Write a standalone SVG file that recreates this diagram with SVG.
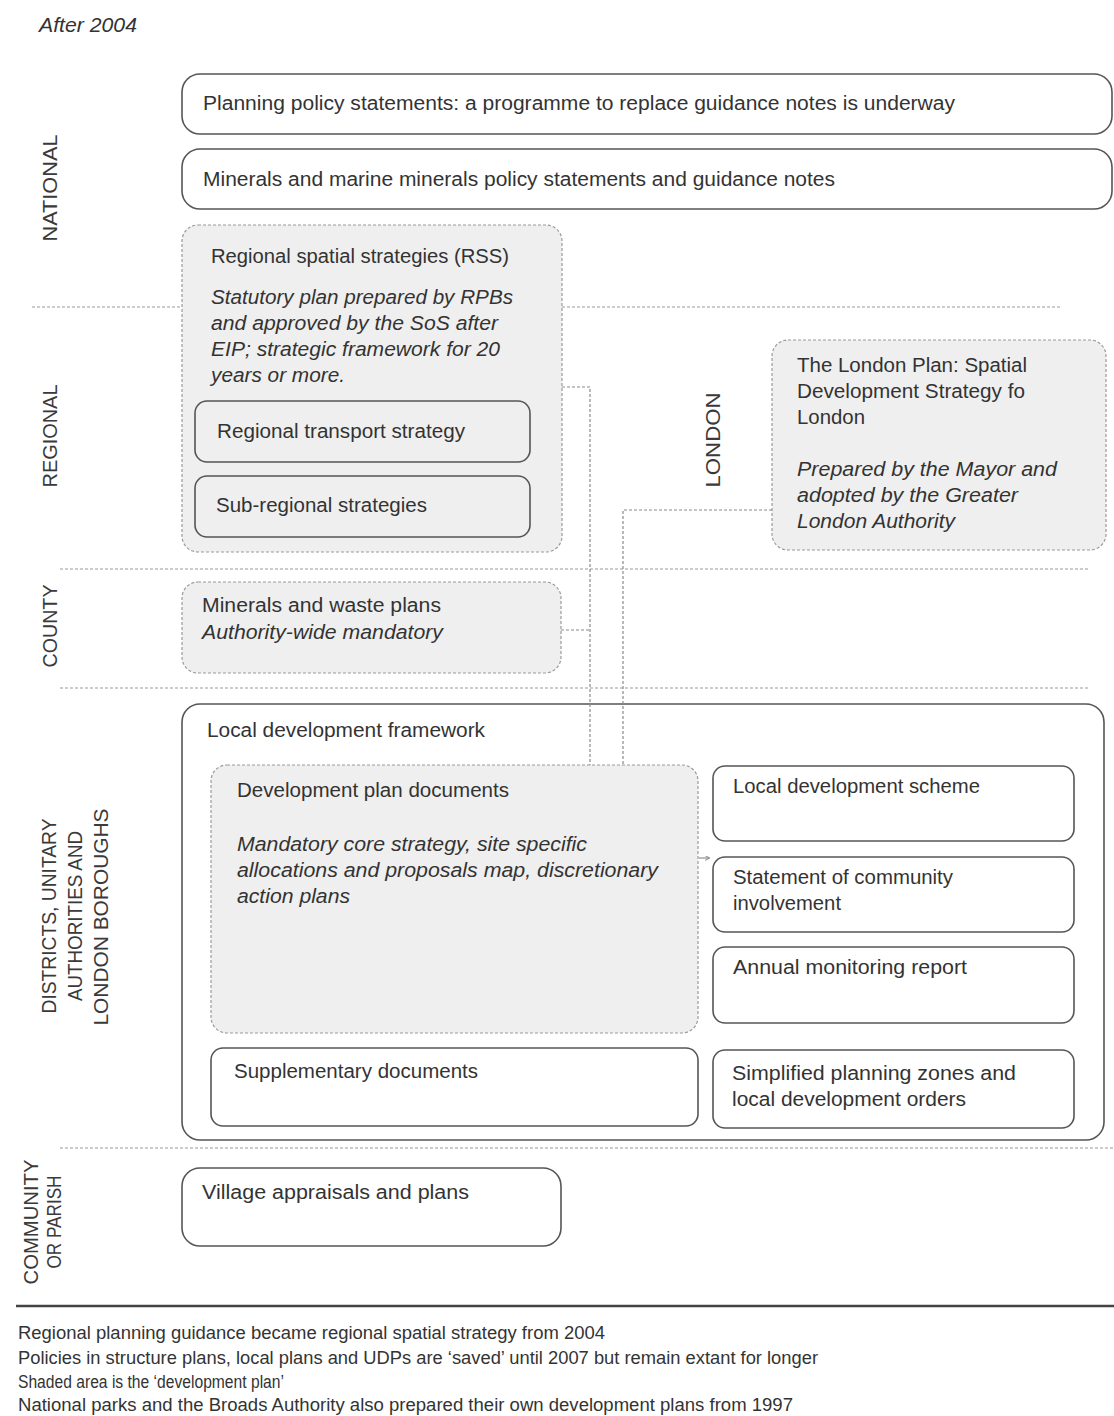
<svg xmlns="http://www.w3.org/2000/svg" width="1114" height="1416" viewBox="0 0 1114 1416">
<defs>
<style>
text{font-family:"Liberation Sans",Arial,sans-serif;font-size:20px;fill:#333}
.i{font-style:italic}
.lab{font-size:20px;fill:#3a3a3a;text-anchor:middle}
.ft{font-size:17.5px;fill:#333}
.box{fill:#fff;stroke:#555;stroke-width:1.6}
.inner{fill:none;stroke:#555;stroke-width:1.6}
.shade{fill:#efefef;stroke:#9a9a9a;stroke-width:1.2;stroke-dasharray:3 2}
.sep{stroke:#9a9a9a;stroke-width:1.2;stroke-dasharray:3 2;fill:none}
.conn{stroke:#8a8a8a;stroke-width:1.2;stroke-dasharray:3 2;fill:none}
</style>
<marker id="ah" viewBox="0 0 6 6" refX="5" refY="3" markerWidth="5" markerHeight="5" orient="auto">
<path d="M0,0 L6,3 L0,6" fill="none" stroke="#777" stroke-width="1"/>
</marker>
</defs>
<rect width="1114" height="1416" fill="#fff"/>

<text x="39" y="32" class="i" textLength="98" lengthAdjust="spacingAndGlyphs">After 2004</text>

<g id="separators">
<line class="sep" x1="32" y1="307" x2="1062" y2="307"/>
<line class="sep" x1="60" y1="569" x2="1090" y2="569"/>
<line class="sep" x1="60" y1="688" x2="1090" y2="688"/>
<line class="sep" x1="60" y1="1148" x2="1114" y2="1148"/>
<line x1="16" y1="1306" x2="1114" y2="1306" stroke="#444" stroke-width="2.5"/>
</g>

<g id="level-labels">
<text class="lab" transform="translate(57,188) rotate(-90)" textLength="107" lengthAdjust="spacingAndGlyphs">NATIONAL</text>
<text class="lab" transform="translate(57,436) rotate(-90)" textLength="103" lengthAdjust="spacingAndGlyphs">REGIONAL</text>
<text class="lab" transform="translate(57,626) rotate(-90)" textLength="83" lengthAdjust="spacingAndGlyphs">COUNTY</text>
<text class="lab" transform="translate(56,916) rotate(-90)" textLength="195" lengthAdjust="spacingAndGlyphs">DISTRICTS, UNITARY</text>
<text class="lab" transform="translate(82,916) rotate(-90)" textLength="170" lengthAdjust="spacingAndGlyphs">AUTHORITIES AND</text>
<text class="lab" transform="translate(108,917) rotate(-90)" textLength="217" lengthAdjust="spacingAndGlyphs">LONDON BOROUGHS</text>
<text class="lab" transform="translate(38,1222) rotate(-90)" textLength="125" lengthAdjust="spacingAndGlyphs">COMMUNITY</text>
<text class="lab" transform="translate(61,1222) rotate(-90)" textLength="93" lengthAdjust="spacingAndGlyphs">OR PARISH</text>
<text class="lab" transform="translate(720,440) rotate(-90)" textLength="95" lengthAdjust="spacingAndGlyphs">LONDON</text>
</g>

<g id="n-pps">
<rect class="box" x="182" y="74" width="930" height="60" rx="18"/>
<text x="203" y="110" textLength="752" lengthAdjust="spacingAndGlyphs">Planning policy statements: a programme to replace guidance notes is underway</text>
</g>

<g id="n-mmps">
<rect class="box" x="182" y="149" width="930" height="60" rx="18"/>
<text x="203" y="186" textLength="632" lengthAdjust="spacingAndGlyphs">Minerals and marine minerals policy statements and guidance notes</text>
</g>

<g id="n-rss">
<rect class="shade" x="182" y="225" width="380" height="327" rx="16"/>
<text x="211" y="263" textLength="298" lengthAdjust="spacingAndGlyphs">Regional spatial strategies (RSS)</text>
<text class="i" x="211" y="304" textLength="302" lengthAdjust="spacingAndGlyphs">Statutory plan prepared by RPBs</text>
<text class="i" x="211" y="330" textLength="287" lengthAdjust="spacingAndGlyphs">and approved by the SoS after</text>
<text class="i" x="211" y="356" textLength="289" lengthAdjust="spacingAndGlyphs">EIP; strategic framework for 20</text>
<text class="i" x="211" y="382" textLength="134" lengthAdjust="spacingAndGlyphs">years or more.</text>
</g>

<g id="n-rts">
<rect class="inner" x="195" y="401" width="335" height="61" rx="12"/>
<text x="217" y="438" textLength="248" lengthAdjust="spacingAndGlyphs">Regional transport strategy</text>
</g>

<g id="n-srs">
<rect class="inner" x="195" y="476" width="335" height="61" rx="12"/>
<text x="216" y="512" textLength="211" lengthAdjust="spacingAndGlyphs">Sub-regional strategies</text>
</g>

<g id="n-london">
<rect class="shade" x="772" y="340" width="334" height="210" rx="16"/>
<text x="797" y="372" textLength="230" lengthAdjust="spacingAndGlyphs">The London Plan: Spatial</text>
<text x="797" y="398" textLength="228" lengthAdjust="spacingAndGlyphs">Development Strategy fo</text>
<text x="797" y="424" textLength="68" lengthAdjust="spacingAndGlyphs">London</text>
<text class="i" x="797" y="476" textLength="260" lengthAdjust="spacingAndGlyphs">Prepared by the Mayor and</text>
<text class="i" x="797" y="502" textLength="221" lengthAdjust="spacingAndGlyphs">adopted by the Greater</text>
<text class="i" x="797" y="528" textLength="158" lengthAdjust="spacingAndGlyphs">London Authority</text>
</g>

<g id="n-mwp">
<rect class="shade" x="182" y="582" width="379" height="91" rx="16"/>
<text x="202" y="612" textLength="239" lengthAdjust="spacingAndGlyphs">Minerals and waste plans</text>
<text class="i" x="202" y="639" textLength="241" lengthAdjust="spacingAndGlyphs">Authority-wide mandatory</text>
</g>

<g id="n-ldf">
<rect class="box" x="182" y="704" width="922" height="436" rx="18"/>
<text x="207" y="737" textLength="278" lengthAdjust="spacingAndGlyphs">Local development framework</text>
</g>

<g id="n-dpd">
<rect class="shade" x="211" y="765" width="487" height="268" rx="16"/>
<text x="237" y="797" textLength="272" lengthAdjust="spacingAndGlyphs">Development plan documents</text>
<text class="i" x="237" y="851" textLength="350" lengthAdjust="spacingAndGlyphs">Mandatory core strategy, site specific</text>
<text class="i" x="237" y="877" textLength="421" lengthAdjust="spacingAndGlyphs">allocations and proposals map, discretionary</text>
<text class="i" x="237" y="903" textLength="113" lengthAdjust="spacingAndGlyphs">action plans</text>
</g>

<g id="n-lds">
<rect class="box" x="713" y="766" width="361" height="75" rx="12"/>
<text x="733" y="793" textLength="247" lengthAdjust="spacingAndGlyphs">Local development scheme</text>
</g>

<g id="n-sci">
<rect class="box" x="713" y="857" width="361" height="75" rx="12"/>
<text x="733" y="884" textLength="220" lengthAdjust="spacingAndGlyphs">Statement of community</text>
<text x="733" y="910" textLength="108" lengthAdjust="spacingAndGlyphs">involvement</text>
</g>

<g id="n-amr">
<rect class="box" x="713" y="947" width="361" height="76" rx="12"/>
<text x="733" y="974" textLength="234" lengthAdjust="spacingAndGlyphs">Annual monitoring report</text>
</g>

<g id="n-supp">
<rect class="box" x="211" y="1048" width="487" height="78" rx="12"/>
<text x="234" y="1078" textLength="244" lengthAdjust="spacingAndGlyphs">Supplementary documents</text>
</g>

<g id="n-spz">
<rect class="box" x="713" y="1050" width="361" height="78" rx="12"/>
<text x="732" y="1080" textLength="284" lengthAdjust="spacingAndGlyphs">Simplified planning zones and</text>
<text x="732" y="1106" textLength="234" lengthAdjust="spacingAndGlyphs">local development orders</text>
</g>

<g id="n-village">
<rect class="box" x="182" y="1168" width="379" height="78" rx="18"/>
<text x="202" y="1199" textLength="267" lengthAdjust="spacingAndGlyphs">Village appraisals and plans</text>
</g>

<g id="connectors">
<path class="conn" d="M562,387 H590 V765"/>
<path class="conn" d="M772,510 H623 V765"/>
<path class="conn" d="M561,630 H590"/>
<path d="M699,858 H709" stroke="#777" stroke-width="1" fill="none" marker-end="url(#ah)"/>
</g>

<g id="footnotes">
<text class="ft" x="18" y="1339" textLength="587" lengthAdjust="spacingAndGlyphs">Regional planning guidance became regional spatial strategy from 2004</text>
<text class="ft" x="18" y="1364" textLength="800" lengthAdjust="spacingAndGlyphs">Policies in structure plans, local plans and UDPs are ‘saved’ until 2007 but remain extant for longer</text>
<text class="ft" x="18" y="1388" textLength="266" lengthAdjust="spacingAndGlyphs">Shaded area is the ‘development plan’</text>
<text class="ft" x="18" y="1411" textLength="775" lengthAdjust="spacingAndGlyphs">National parks and the Broads Authority also prepared their own development plans from 1997</text>
</g>
</svg>
